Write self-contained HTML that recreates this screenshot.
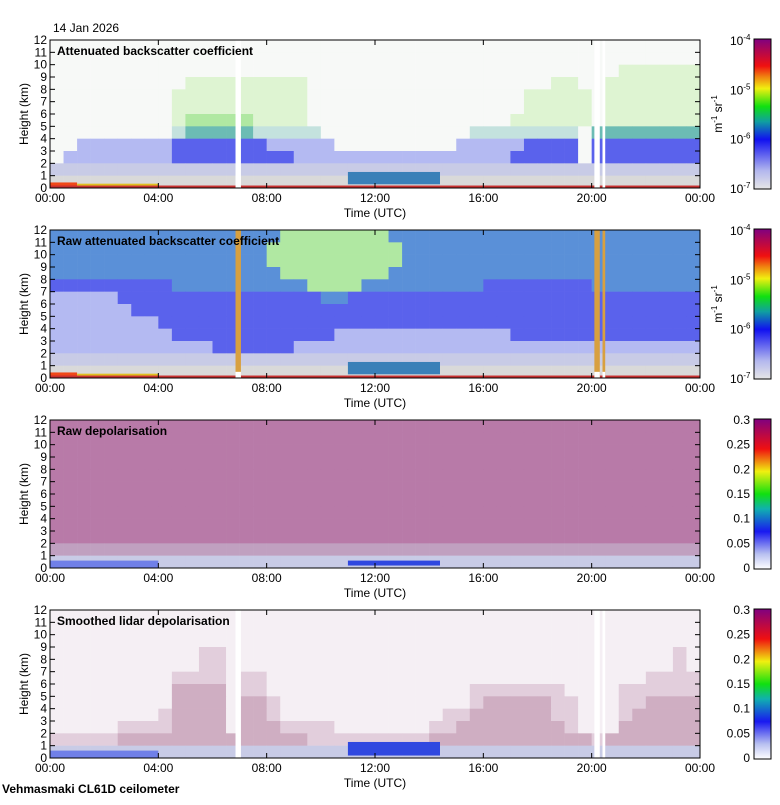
<!DOCTYPE html>
<html><head><meta charset="utf-8">
<style>
html,body{margin:0;padding:0;background:#fff;}
body{width:780px;height:800px;overflow:hidden;font-family:"Liberation Sans",sans-serif;}
svg text{font-family:"Liberation Sans",sans-serif;}
</style></head>
<body>
<svg id="chart" width="780" height="800" viewBox="0 0 780 800" xmlns="http://www.w3.org/2000/svg">
<text x="53" y="32" font-size="12">14 Jan 2026</text>
<text x="2" y="793" font-size="12" font-weight="bold">Vehmasmaki CL61D ceilometer</text>
</svg>
<script>
// ---- data ----
const hourTicks = [0, 4, 8, 12, 16, 20, 24];
const hourTickLabels = ["00:00","04:00","08:00","12:00","16:00","20:00","00:00"];
const heightTicks = [0,1,2,3,4,5,6,7,8,9,10,11,12];
const panelTitles = ["Attenuated backscatter coefficient","Raw attenuated backscatter coefficient","Raw depolarisation","Smoothed lidar depolarisation"];
// grid rows: index 0 = 11-12 km ... index 11 = 0-1 km; 48 half-hour columns
const grid1 = [
 "wwwwwwwwwwwwwwwwwwwwwwwwwwwwwwwwwwwwwwwwwwwwwwww",
 "wwwwwwwwwwwwwwwwwwwwwwwwwwwwwwwwwwwwwwwwwwwwwwww",
 "wwwwwwwwwwwwwwwwwwwwwwwwwwwwwwwwwwwwwwwwwwyyyyyy",
 "wwwwwwwwwwyyyyyyyyywwwwwwwwwwwwwwwwwwyywwyyyyyyy",
 "wwwwwwwwwyyyyyyyyyywwwwwwwwwwwwwwwwyyyyywyyyyyyy",
 "wwwwwwwwwyyyyyyyyyywwwwwwwwwwwwwwwwyyyyywyyyyyyy",
 "wwwwwwwwwyYYYYYyyyywwwwwwwwwwwwwwwyyyyyywyyyyyyy",
 "wwwwwwwwwtTTTTTtttttwwwwwwwwwwwttttttttwTTTTTTTT",
 "wwbbbbbbbBBBBBBBbbbbbwwwwwwwwwbbbbbBBBBwBBBBBBBB",
 "wbbbbbbbbBBBBBBBBBbbbbbbbbbbbbbbbbBBBBBwBBBBBBBB",
 "LLLLLLLLLLLLLLLLLLLLLLLLLLLLLLLLLLLLLLLLLLLLLLLL",
 "gggggggggggggggggggggggggggggggggggggggggggggggg"];
const grid2 = [
 "KKKKKKKKKKKKKKKKKYYYYYYYYKKKKKKKKKKKKKKKKKKKKKKK",
 "KKKKKKKKKKKKKKKKYYYYYYYYYYKKKKKKKKKKKKKKKKKKKKKK",
 "KKKKKKKKKKKKKKKKYYYYYYYYYYKKKKKKKKKKKKKKKKKKKKKK",
 "KKKKKKKKKKKKKKKKKYYYYYYYYKKKKKKKKKKKKKKKKKKKKKKK",
 "BBBBBBBBBKKKKKKKKKKYYYYKKKKKKKKKBBBBBBBBKKKKKKKK",
 "bbbbbBBBBBBBBBBBBBBBKKBBBBBBBBBBBBBBBBBBBBBBBBBB",
 "bbbbbbBBBBBBBBBBBBBBBBBBBBBBBBBBBBBBBBBBBBBBBBBB",
 "bbbbbbbbBBBBBBBBBBBBBBBBBBBBBBBBBBBBBBBBBBBBBBBB",
 "bbbbbbbbbBBBBBBBBBBBBbbbbbbbbbbbbbBBBBBBBBBBBBBB",
 "bbbbbbbbbbbbBBBBBBbbbbbbbbbbbbbbbbbbbbbbbbbbbbbb",
 "LLLLLLLLLLLLLLLLLLLLLLLLLLLLLLLLLLLLLLLLLLLLLLLL",
 "gggggggggggggggggggggggggggggggggggggggggggggggg"];
const grid3 = [
 "PPPPPPPPPPPPPPPPPPPPPPPPPPPPPPPPPPPPPPPPPPPPPPPP",
 "PPPPPPPPPPPPPPPPPPPPPPPPPPPPPPPPPPPPPPPPPPPPPPPP",
 "PPPPPPPPPPPPPPPPPPPPPPPPPPPPPPPPPPPPPPPPPPPPPPPP",
 "PPPPPPPPPPPPPPPPPPPPPPPPPPPPPPPPPPPPPPPPPPPPPPPP",
 "PPPPPPPPPPPPPPPPPPPPPPPPPPPPPPPPPPPPPPPPPPPPPPPP",
 "PPPPPPPPPPPPPPPPPPPPPPPPPPPPPPPPPPPPPPPPPPPPPPPP",
 "PPPPPPPPPPPPPPPPPPPPPPPPPPPPPPPPPPPPPPPPPPPPPPPP",
 "PPPPPPPPPPPPPPPPPPPPPPPPPPPPPPPPPPPPPPPPPPPPPPPP",
 "PPPPPPPPPPPPPPPPPPPPPPPPPPPPPPPPPPPPPPPPPPPPPPPP",
 "PPPPPPPPPPPPPPPPPPPPPPPPPPPPPPPPPPPPPPPPPPPPPPPP",
 "QQQQQQQQQQQQQQQQQQQQQQQQQQQQQQQQQQQQQQQQQQQQQQQQ",
 "LLLLLLLLLLLLLLLLLLLLLLLLLLLLLLLLLLLLLLLLLLLLLLLL"];
const grid4 = [
 "pppppppppppppppppppppppppppppppppppppppppppppppp",
 "pppppppppppppppppppppppppppppppppppppppppppppppp",
 "pppppppppppppppppppppppppppppppppppppppppppppppp",
 "pppppppppppmmpppppppppppppppppppppppppppppppppmp",
 "pppppppppppmmpppppppppppppppppppppppppppppppppmp",
 "pppppppppmmmmpmmppppppppppppppppppppppppppppmmmm",
 "pppppppppMMMMpmmpppppppppppppppmmmmmmmppppmmmmmm",
 "pppppppppMMMMpMMmppppppppppppppmMMMMMmmpppmmMMMM",
 "ppppppppmMMMMpMMmppppppppppppmmMMMMMMmmpppmMMMMM",
 "pppppmmmmMMMMpMMMmmmmpppppppmmMMMMMMMMmpppMMMMMM",
 "mmmmmMMMMMMMMMMMMMMmmmmmmmmmMMMMMMMMMMMMmMMMMMMM",
 "LLLLLLLLLLLLLLLLLLLLLLLLLLLLLLLLLLLLLLLLLLLLLLLL"];
const grids = [grid1, grid2, grid3, grid4];
// cloud layer (start hour, end hour, bottom km, top km)
const cloudStart = [11.0, 11.0, 11.0, 11.0];
const cloudEnd = [14.4, 14.4, 14.4, 14.4];
const cloudBase = [0.3, 0.3, 0.2, 0.2];
const cloudTopKm = [1.3, 1.3, 0.6, 1.3];
// data gaps (hours)
const gapStart = [6.85, 20.1, 20.4];
const gapEnd = [7.05, 20.3, 20.5];
const cbLog = ["10","10","10","10"];
const cbLogExp = ["-4","-5","-6","-7"];
const cbLin = ["0.3","0.25","0.2","0.15","0.1","0.05","0"];

const palette = {
 w:"#f7f9f7", y:"#def4d2", Y:"#b0e8a2", t:"#c4e2de", T:"#6cbcb4", b:"#b4baf2", B:"#5a62ec",
 L:"#c8cbe6", g:"#d9d9d9", K:"#5a90d8", P:"#b87aa8", Q:"#c0a0c0", p:"#f5eff4", m:"#e2cedc", M:"#cfaec2"
};
const NS = "http://www.w3.org/2000/svg";
const svg = document.getElementById("chart");
const X0 = 50, X1 = 700, PH = 148, TOPS = [40, 230, 420, 610];
const xOf = h => X0 + (X1 - X0) * h / 24;
function yOf(p, km){ return TOPS[p] + PH - PH * km / 12; }
function mk(tag, attrs, parent){ const e = document.createElementNS(NS, tag); for (const k in attrs) e.setAttribute(k, attrs[k]); (parent||svg).appendChild(e); return e; }

const bsGrad = [["0","#e6e6e6"],["0.12","#b4b8ee"],["0.33","#1010f0"],["0.45","#10a0a0"],["0.55","#10e010"],["0.67","#f0f010"],["0.75","#f08010"],["0.82","#f01010"],["1","#800080"]];
const dpGrad = [["0","#ffffff"],["0.1","#b8c0f0"],["0.25","#1818f0"],["0.4","#10b0b0"],["0.5","#10e010"],["0.65","#f0f010"],["0.8","#f01010"],["1","#800080"]];
const defs = mk("defs", {});
[["gbs", bsGrad], ["gdp", dpGrad]].forEach(([id, stops]) => {
  const lg = mk("linearGradient", {id: id, x1:"0", y1:"1", x2:"0", y2:"0"}, defs);
  stops.forEach(s => mk("stop", {offset: s[0], "stop-color": s[1]}, lg));
});

for (let p = 0; p < 4; p++) {
  const g = mk("g", {});
  
  
  const grid = grids[p];
  const cols = grid[0].length;
  for (let r = 0; r < grid.length; r++) {
    const km = 11 - r;
    for (let c = 0; c < cols; c++) {
      const x0 = xOf(c * 24 / cols), x1 = xOf((c + 1) * 24 / cols);
      const cell = mk("rect", {x: x0, y: yOf(p, km + 1), width: x1 - x0 + 0.3, height: PH / 12 + 0.3, fill: palette[grid[r][c]]}, g);
      
      
    }
  }
  if (p < 2) {
    const gl = mk("rect", {x: X0, y: yOf(p, 0.45), width: xOf(1) - X0, height: yOf(p,0) - yOf(p,0.45), fill: "#f04818"}, g);
    
    
    const gl2 = mk("rect", {x: X0, y: yOf(p, 0.2), width: X1 - X0, height: yOf(p,0) - yOf(p,0.2), fill: "#c83030"}, g);
    
    
    const gl3 = mk("rect", {x: xOf(1), y: yOf(p, 0.35), width: xOf(4) - xOf(1), height: yOf(p,0.2) - yOf(p,0.35), fill: "#e0c020"}, g);
    
    
  } else {
    const gl = mk("rect", {x: X0, y: yOf(p, 0.6), width: xOf(4) - X0, height: yOf(p,0) - yOf(p,0.6), fill: "#7080e8"}, g);
    
    
  }
  const cl = mk("rect", {x: xOf(cloudStart[p]), y: yOf(p, cloudTopKm[p]), width: xOf(cloudEnd[p]) - xOf(cloudStart[p]), height: yOf(p, cloudBase[p]) - yOf(p, cloudTopKm[p]), fill: p < 2 ? "#3a80b8" : "#3048e0"}, g);
  
  
  if (p !== 2) {
    for (let i = 0; i < gapStart.length; i++) {
      const fill = p === 1 ? "#d8a040" : "#ffffff";
      const gr = mk("rect", {x: xOf(gapStart[i]), y: yOf(p, 12), width: Math.max(2, xOf(gapEnd[i]) - xOf(gapStart[i])), height: PH, fill: fill}, g);
      
      
      if (p === 1) mk("rect", {x: xOf(gapStart[i]), y: yOf(p, 0.5), width: Math.max(2, xOf(gapEnd[i]) - xOf(gapStart[i])), height: yOf(p,0)-yOf(p,0.5), fill: "#ffffff"}, g);
    }
  }
  const fr = mk("rect", {x: X0, y: TOPS[p], width: X1 - X0, height: PH, fill: "none", stroke: "#000", "stroke-width": 1}, g);
  
  
  heightTicks.forEach(v => {
    const y = yOf(p, v);
    mk("line", {x1: X0, x2: X0 + 5, y1: y, y2: y, stroke: "#000"}, g);
    mk("line", {x1: X1 - 5, x2: X1, y1: y, y2: y, stroke: "#000"}, g);
    const t = mk("text", {x: X0 - 3, y: y + 4, "font-size": 12, "text-anchor": "end"}, g);
    t.textContent = v;
    
    
  });
  hourTicks.forEach((h, i) => {
    const x = xOf(h);
    mk("line", {x1: x, x2: x, y1: TOPS[p] + PH, y2: TOPS[p] + PH - 5, stroke: "#000"}, g);
    mk("line", {x1: x, x2: x, y1: TOPS[p], y2: TOPS[p] + 5, stroke: "#000"}, g);
    const t = mk("text", {x: x, y: TOPS[p] + PH + 14, "font-size": 12, "text-anchor": "middle"}, g);
    t.textContent = hourTickLabels[i];
    
    
  });
  const xt = mk("text", {x: 375, y: TOPS[p] + PH + 29, "font-size": 12, "text-anchor": "middle"}, g);
  xt.textContent = "Time (UTC)";
  
  
  const yt = mk("text", {x: 0, y: 0, "font-size": 12, "text-anchor": "middle", transform: "translate(28," + (TOPS[p] + PH/2) + ") rotate(-90)"}, g);
  yt.textContent = "Height (km)";
  
  
  const tt = mk("text", {x: 57, y: TOPS[p] + 15, "font-size": 12, "font-weight": "bold"}, g);
  tt.textContent = panelTitles[p];
  
  
  const cb = mk("rect", {x: 754, y: TOPS[p] - 1, width: 17, height: PH + 2, fill: p < 2 ? "url(#gbs)" : "url(#gdp)", stroke: "#000"}, g);
  
  
  if (p < 2) {
    cbLog.forEach((b, i) => {
      const y = TOPS[p] + i * PH / 3;
      const t = mk("text", {x: 730, y: y + 5, "font-size": 12}, g);
      t.textContent = b;
      const s = mk("tspan", {"font-size": 8, dy: -5}, t);
      s.textContent = cbLogExp[i];
      
      
    });
    const u = mk("text", {x: 0, y: 0, "font-size": 12, "text-anchor": "middle", transform: "translate(722," + (TOPS[p] + PH/2) + ") rotate(-90)"}, g);
    u.innerHTML = 'm<tspan font-size="8" dy="-5">-1</tspan><tspan dy="5"> sr</tspan><tspan font-size="8" dy="-5">-1</tspan>';
    
    
  } else {
    cbLin.forEach((b, i) => {
      const y = TOPS[p] + i * PH / 6;
      const t = mk("text", {x: 750, y: y + 4, "font-size": 12, "text-anchor": "end"}, g);
      t.textContent = b;
      
      
    });
  }
}
</script>
</body></html>
